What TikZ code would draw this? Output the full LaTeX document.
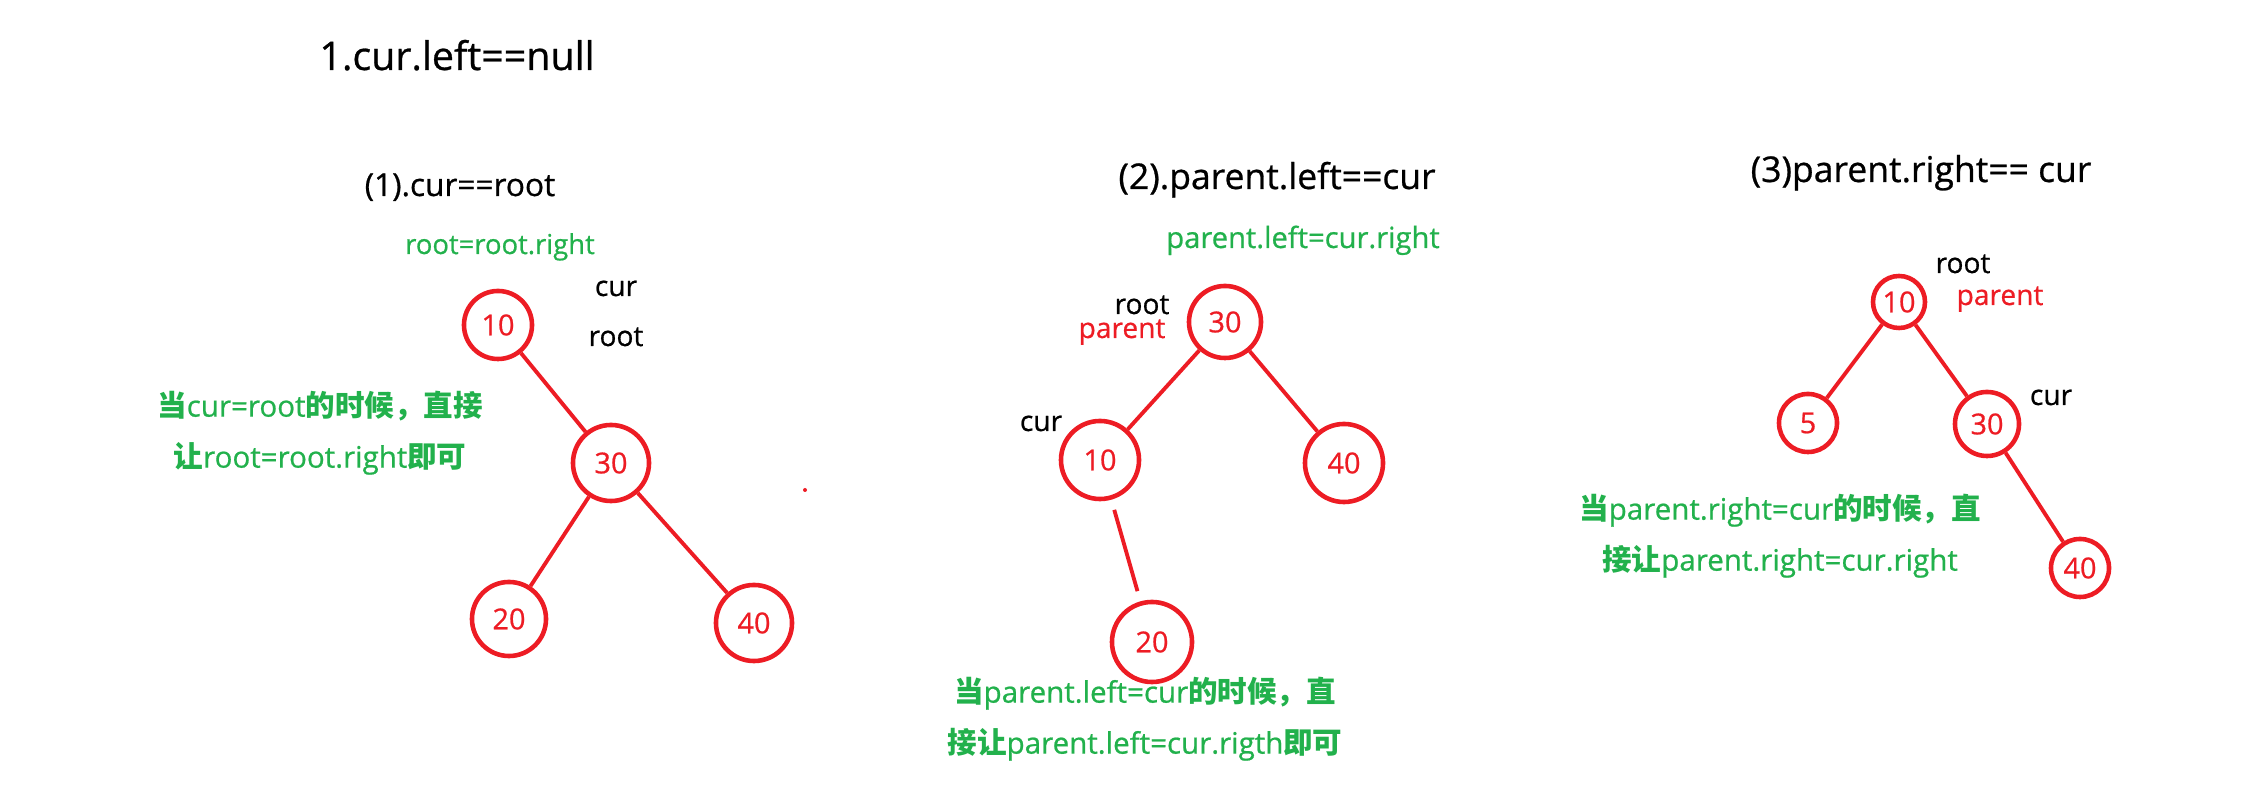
\documentclass[tikz,border=0pt]{standalone}
\usepackage{fontspec}
\setmainfont{Open Sans}[UprightFeatures={FakeBold=0.7}]
\newfontfamily\cjk{Noto Sans CJK SC}
\usetikzlibrary{positioning}
\definecolor{cRed}{HTML}{ED1C24}
\definecolor{cGreen}{HTML}{22B14C}
\newcommand\zh[1]{{\cjk\bfseries #1}}

\begin{document}
\begin{tikzpicture}[
  x=0.01cm, y=-0.01cm,
  tnode/.style={circle, draw=cRed, line width=1.3pt, text=cRed, inner sep=0pt,
                minimum size=#1, font=\fontsize{8.2}{10}\selectfont},
  edge/.style={draw=cRed, line width=1.1pt},
  ttl/.style={anchor=base, font=\fontsize{#1}{12}\selectfont},
  ptr/.style={anchor=base, text=#1, font=\fontsize{8}{10}\selectfont},
  ptr/.default=black,
  code/.style={anchor=base, text=cGreen, font=\fontsize{#1}{10}\selectfont},
  note/.style={text=cGreen, align=center, font=\fontsize{8.4}{14.5}\selectfont},
]
\useasboundingbox (0,0) rectangle (2245,804);

\node[ttl=11.2] (title) at (457,70) {1.cur.left==null};

% ---- Case 1: cur is root ----
\node[ttl=9] (case1) at (460,196) {(1).cur==root};
\node[code=7.8] (fix1) at (500,254) {root=root.right};
\node[tnode=6.8mm] (a10) at (498,325) {10};
\node[tnode=7.6mm] (a30) at (611,463) {30};
\node[tnode=7.4mm] (a20) at (509,619) {20};
\node[tnode=7.6mm] (a40) at (754,623) {40};
\node[ptr] (acur) at (616,296) {cur};
\node[ptr] (aroot) at (616,346) {root};
\node[note] (note1) at (320,433)
  {\zh{当}cur=root\zh{的时候，直接}\\\zh{让}root=root.right\zh{即可}};
\fill[cRed] (805,490) circle (2);

% ---- Case 2: cur is parent.left ----
\node[ttl=10.1] (case2) at (1277,189) {(2).parent.left==cur};
\node[code=8.3] (fix2) at (1303,248) {parent.left=cur.right};
\node[tnode=7.2mm] (b30) at (1225,322) {30};
\node[tnode=7.8mm] (b10) at (1100,460) {10};
\node[tnode=7.8mm] (b40) at (1344,463) {40};
\node[tnode=8mm] (b20) at (1152,642) {20};
\node[ptr] (broot) at (1142,314) {root};
\node[ptr=cRed] (bpar) at (1122,338) {parent};
\node[ptr] (bcur) at (1041,431) {cur};
\node[note] (note2) at (1145,719)
  {\zh{当}parent.left=cur\zh{的时候，直}\\\zh{接让}parent.left=cur.rigth\zh{即可}};

% ---- Case 3: cur is parent.right ----
\node[ttl=10.1] (case3) at (1921,182) {(3)parent.right== cur};
\node[tnode=5.2mm] (c10) at (1899,302) {10};
\node[tnode=5.8mm] (c5) at (1808,423) {5};
\node[tnode=6.4mm] (c30) at (1987,424) {30};
\node[tnode=5.8mm] (c40) at (2080,568) {40};
\node[ptr] (croot) at (1963,273) {root};
\node[ptr=cRed] (cpar) at (2000,305) {parent};
\node[ptr] (ccur) at (2051,405) {cur};
\node[note] (note3) at (1780,536)
  {\zh{当}parent.right=cur\zh{的时候，直}\\\zh{接让}parent.right=cur.right};

% ---- edges ----
\draw[edge] (a10) -- (a30);
\draw[edge] (a30) -- (a20);
\draw[edge] (a30) -- (a40);
\draw[edge] (b30) -- (b10);
\draw[edge] (b30) -- (b40);
\draw[edge, shorten <=3pt, shorten >=3pt] (b10) -- (b20);
\draw[edge] (c10) -- (c5);
\draw[edge] (c10) -- (c30);
\draw[edge] (c30) -- (c40);

\end{tikzpicture}
\end{document}
